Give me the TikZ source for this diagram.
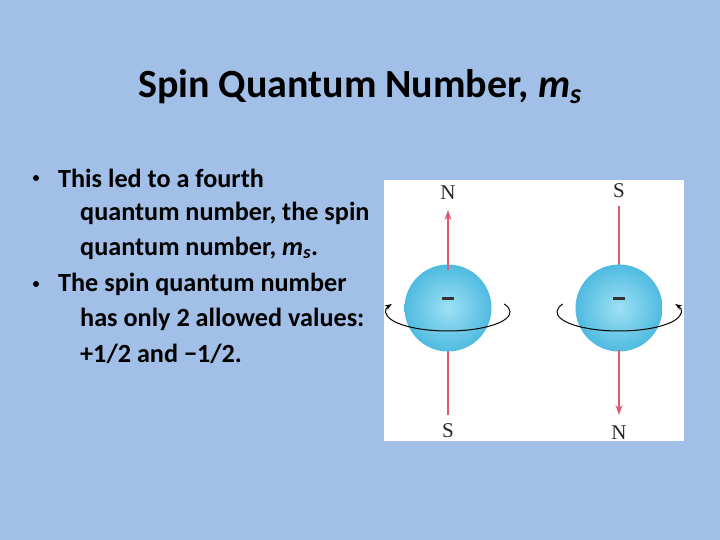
\documentclass[tikz,border=0pt]{standalone}
\usepackage{fontspec}
\setmainfont{Carlito}
\usetikzlibrary{arrows.meta}
\definecolor{bg}{HTML}{A1BFE7}
\definecolor{ballin}{HTML}{9EE0F4}
\definecolor{ballout}{HTML}{4FBBE0}
\definecolor{axis}{HTML}{D9304A}
\tikzset{
 txt/.style={anchor=west,font=\bfseries\fontsize{26.2}{30}\selectfont,inner sep=0},
 bul/.style={circle,fill=black,inner sep=0,minimum size=6pt},
 pole/.style={font=\fontsize{21}{22}\fontspec{Liberation Serif},inner sep=0,text=black!85},
 sph/.style={circle,minimum size=87pt,inner sep=0,inner color=ballin,outer color=ballout,draw=none},
 ax/.style={draw=axis!80,line width=1.2pt},
 spin/.style={line width=1pt,-{Stealth[length=7pt,width=5pt]}},
 minus/.style={fill=black!80}
}
\begin{document}
\begin{tikzpicture}[x=1pt,y=1pt]
\fill[bg] (0,0) rectangle (720,540);
\useasboundingbox (0,0) rectangle (720,540);
\node[font=\bfseries\fontsize{40}{44}\selectfont] (title) at (360,453) {Spin Quantum Number, \textit{m}\textsubscript{\textit{s}}};
\node[bul] (b1) at (36,362) {};
\node[txt] (l1) at (58,362) {This led to a fourth};
\node[txt] (l2) at (80,327) {quantum number, the spin};
\node[txt] (l3) at (80,292) {quantum number, \textit{m}\textsubscript{\textit{s}}.};
\node[bul] (b2) at (36,256) {};
\node[txt] (l4) at (58,256) {The spin quantum number};
\node[txt] (l5) at (80,221) {has only 2 allowed values:};
\node[txt] (l6) at (80,186) {+1/2 and −1/2.};
\fill[white] (384,99) rectangle (684,360);
% left
\coordinate (ls) at (448,125);
\coordinate (ln) at (448,330);
\draw[ax] (ls) -- (448,190);
\node[sph] (L) at (448,232) {};
\draw[ax,-{Stealth[length=10pt,width=7pt]}] (448,270) -- (ln);
\node[pole] (LN) at (448,347) {N};
\node[pole] (LS) at (448,109) {S};
\fill[minus] (442,240) rectangle (454,242.5);
\draw[spin] (448,228) ++(25:62 and 19) arc[start angle=25,end angle=-205,x radius=62,y radius=19];
% right
\coordinate (rs) at (619,334);
\coordinate (rn) at (619,125);
\draw[ax] (rs) -- (619,274);
\node[sph] (R) at (619,232) {};
\draw[ax,-{Stealth[length=10pt,width=7pt]}] (619,190) -- (rn);
\node[pole] (RS) at (619,349) {S};
\node[pole] (RN) at (619,107) {N};
\fill[minus] (613,240) rectangle (625,242.5);
\draw[spin] (619,228) ++(155:62 and 19) arc[start angle=155,end angle=385,x radius=62,y radius=19];
\end{tikzpicture}
\end{document}
